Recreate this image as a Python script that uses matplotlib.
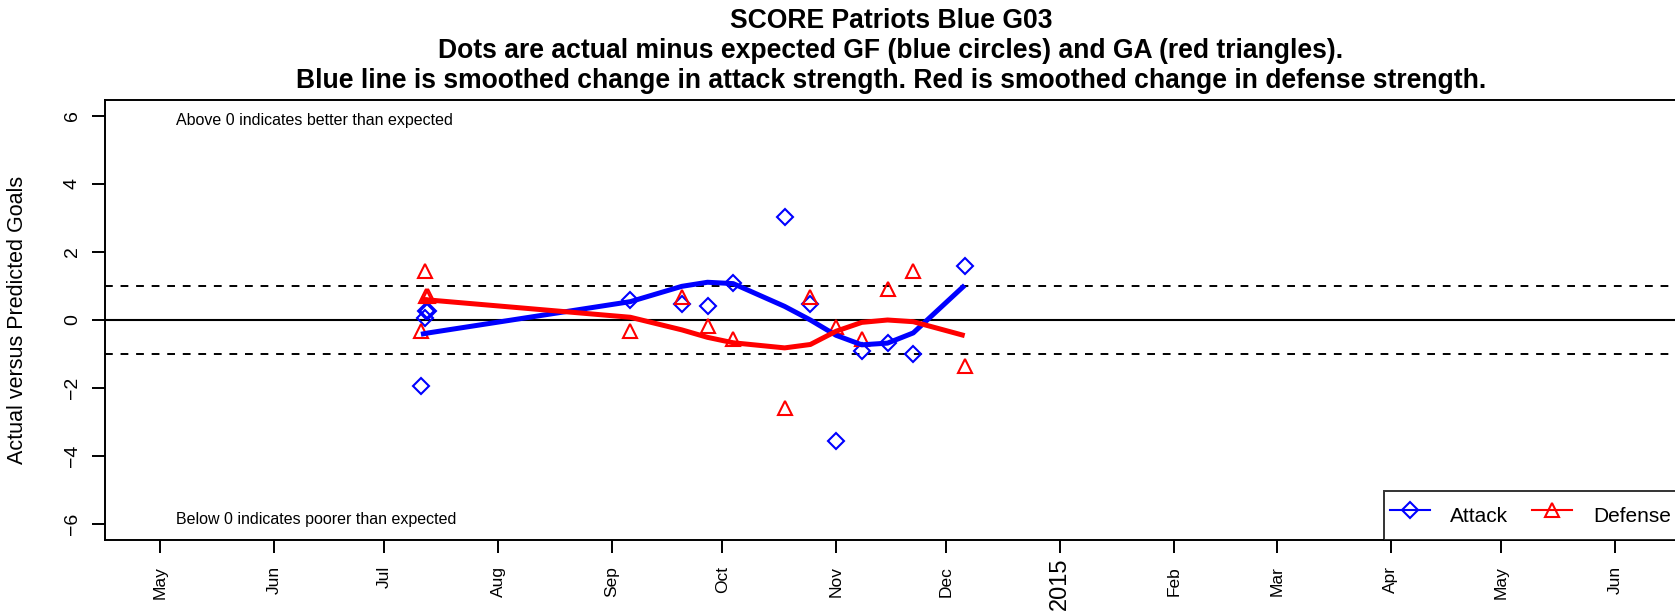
import numpy as np
import pandas as pd
import matplotlib
matplotlib.use("Agg")
import matplotlib.pyplot as plt
from matplotlib.lines import Line2D

plt.rcParams['font.family'] = ['Liberation Sans', 'DejaVu Sans']

# Dane meczów
game_dates = pd.to_datetime([
    '2014-07-11 00:00', '2014-07-12 00:00', '2014-07-12 12:00', '2014-07-13 00:00',
    '2014-09-06 00:00', '2014-09-20 00:00', '2014-09-27 00:00', '2014-10-04 00:00',
    '2014-10-18 00:00', '2014-10-25 00:00', '2014-11-01 00:00', '2014-11-08 00:00',
    '2014-11-15 00:00', '2014-11-22 00:00', '2014-12-06 00:00'])
attack_resid = [-1.94, 0.05, 0.25, 0.25, 0.59, 0.48, 0.41, 1.10,
                3.03, 0.47, -3.57, -0.92, -0.68, -0.99, 1.60]
defense_resid = [-0.32, 1.43, 0.71, 0.71, -0.31, 0.68, -0.19, -0.55,
                 -2.59, 0.69, -0.21, -0.55, 0.90, 1.43, -1.34]
attack_smooth = [-0.42, -0.40, -0.39, -0.38, 0.54, 0.99, 1.11, 1.07,
                 0.40, 0.00, -0.45, -0.73, -0.68, -0.38, 1.02]
defense_smooth = [0.61, 0.60, 0.60, 0.59, 0.08, -0.29, -0.51, -0.67,
                  -0.82, -0.72, -0.33, -0.07, 0.00, -0.05, -0.46]

month_ticks = pd.date_range('2014-05-01', '2015-06-01', freq='MS')
month_labels = ['' if d.month == 1 else d.strftime('%b') for d in month_ticks]
year_tick = pd.Timestamp('2015-01-01')
y_ticks = [-6, -4, -2, 0, 2, 4, 6]

title_lines = [
    "SCORE Patriots Blue G03",
    "Dots are actual minus expected GF (blue circles) and GA (red triangles).",
    "Blue line is smoothed change in attack strength. Red is smoothed change in defense strength.",
]
title_baselines = [28, 58.5, 87.5]  # piksele od góry

W, H = 1675, 616
fig = plt.figure(figsize=(W / 100, H / 100), dpi=100)
ax = fig.add_axes([105 / W, (H - 540) / H, (1677 - 105) / W, (540 - 100) / H])

# linie odniesienia
ax.axhline(0, color='black', lw=1.5)
ax.axhline(1, color='black', lw=1.4, ls=(0, (4, 4)))
ax.axhline(-1, color='black', lw=1.4, ls=(0, (4, 4)))

# punkty
ax.plot(game_dates, attack_resid, ls='none', marker='D', ms=8,
        mfc='none', mec='blue', mew=1.5)
ax.plot(game_dates, defense_resid, ls='none', marker='^', ms=10,
        mfc='none', mec='red', mew=1.5)

# wygładzone linie
ax.plot(game_dates, attack_smooth, color='blue', lw=3.6, solid_capstyle='butt')
ax.plot(game_dates, defense_smooth, color='red', lw=3.6, solid_capstyle='butt')

ax.set_xlim(pd.Timestamp('2014-04-16'), pd.Timestamp('2015-06-17 21:30'))
ax.set_ylim(-6.47, 6.47)

ax.set_xticks(month_ticks)
ax.set_xticklabels(month_labels, rotation=90, fontsize=12.5)
ax.annotate('2015', xy=(year_tick, 0), xycoords=('data', 'axes fraction'),
            xytext=(0, -17), textcoords='offset pixels', rotation=90,
            ha='center', va='top', fontsize=17)
ax.set_yticks(y_ticks)
ax.set_yticklabels([str(v).replace('-', '\u2212') for v in y_ticks],
                   rotation=90, va='center', fontsize=14)
ax.tick_params(axis='both', length=9.4, width=1.4, direction='out')
ax.tick_params(axis='x', pad=9.5)
ax.tick_params(axis='y', pad=8)
for s in ax.spines.values():
    s.set_linewidth(1.4)

ax.text(pd.Timestamp('2014-05-05 10:00'), 5.88, "Above 0 indicates better than expected",
        fontsize=11.5, ha='left', va='center')
ax.text(pd.Timestamp('2014-05-05 10:00'), -5.88, "Below 0 indicates poorer than expected",
        fontsize=11.5, ha='left', va='center')

fig.text(17.5 / W, 1 - 320 / H, "Actual versus Predicted Goals", rotation=90,
         ha='center', va='center', fontsize=15.5)

for line, yb in zip(title_lines, title_baselines):
    fig.text(891 / W, 1 - yb / H, line, ha='center', va='baseline',
             fontsize=19.1, fontweight='bold')

handles = [
    Line2D([], [], color='blue', lw=1.5, marker='D', ms=8, mfc='none', mew=1.5),
    Line2D([], [], color='red', lw=1.5, marker='^', ms=10, mfc='none', mew=1.5),
]
leg = ax.legend(handles, ['Attack', 'Defense'], loc='lower right', ncol=2,
                fontsize=15, frameon=True, fancybox=False, edgecolor='black',
                borderaxespad=0, handlelength=1.9, handletextpad=1.0,
                columnspacing=1.15, borderpad=0.3, handleheight=2.3)
leg.get_frame().set_linewidth(1.4)

fig.savefig('out.png', dpi=100)
